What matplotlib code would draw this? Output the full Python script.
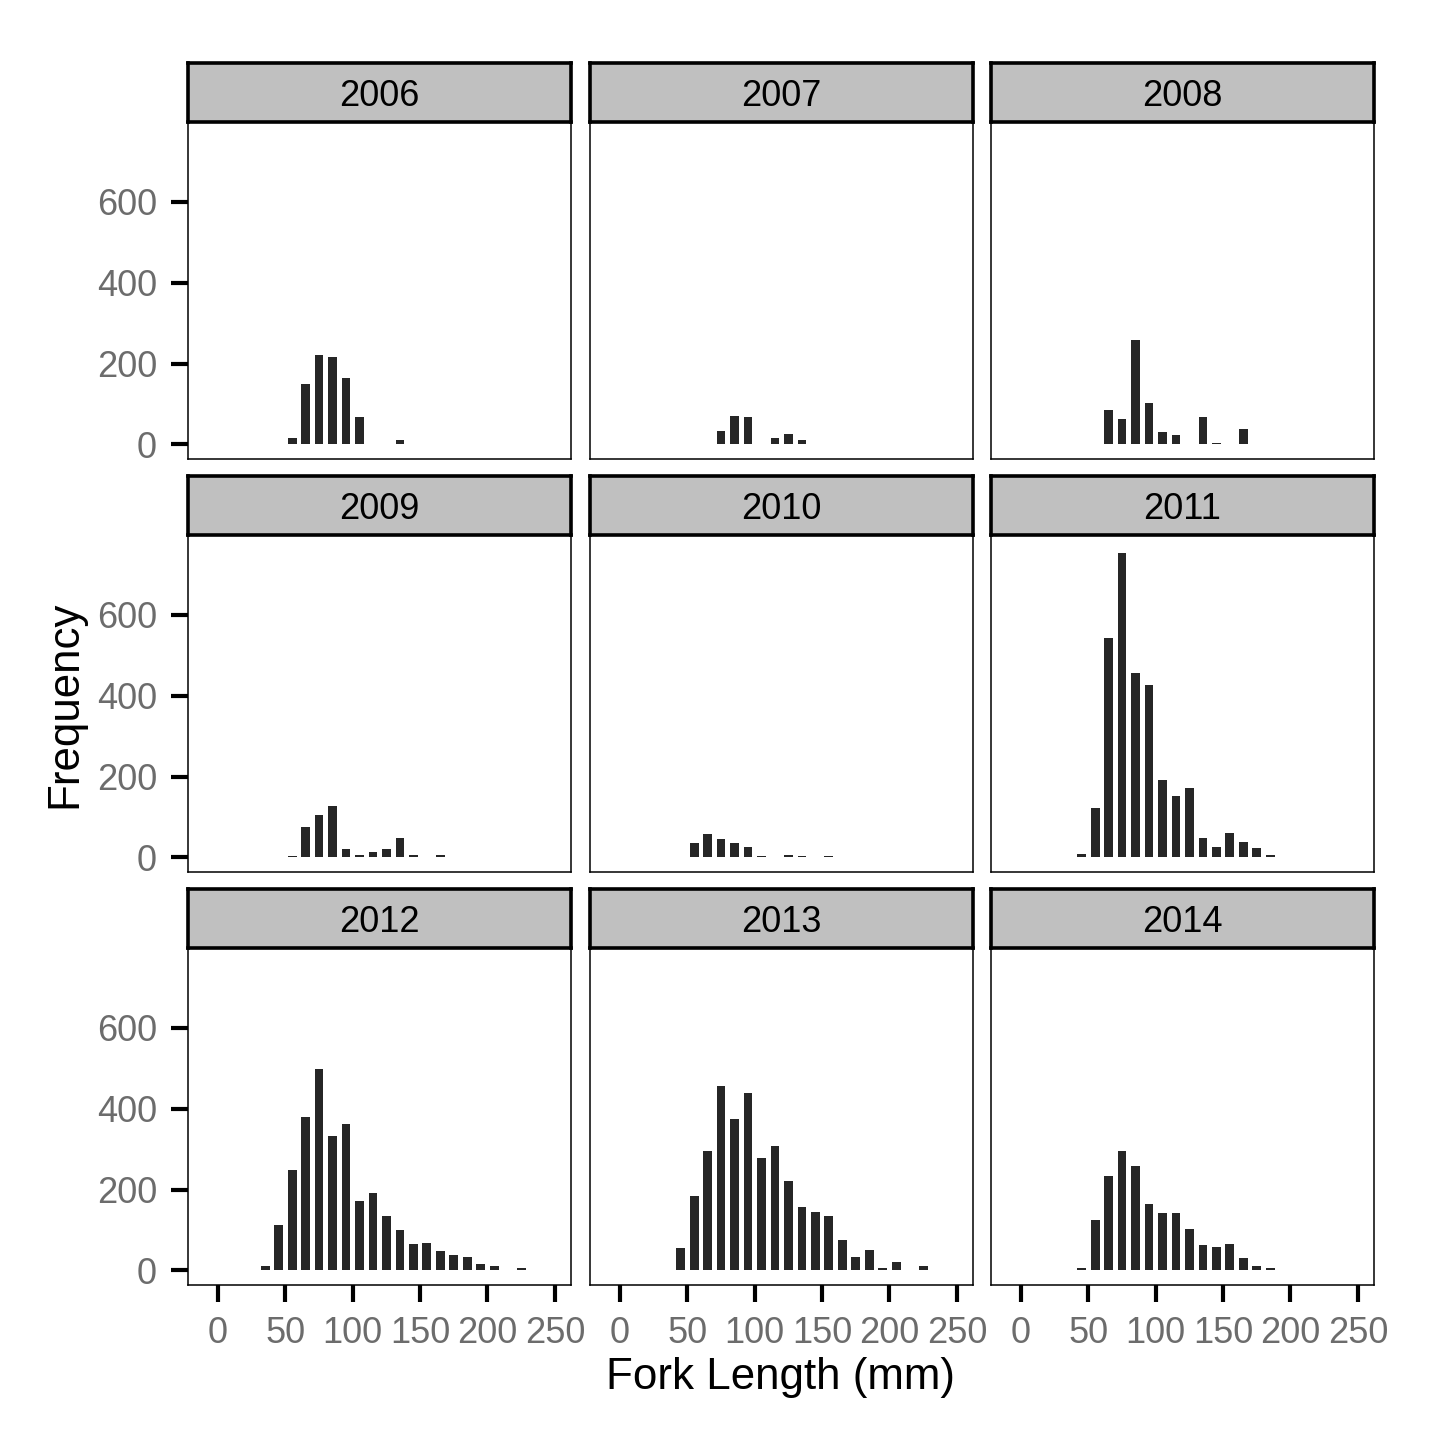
import matplotlib
matplotlib.use("Agg")
import matplotlib.pyplot as plt

plt.rcParams['font.family'] = ['Liberation Sans', 'DejaVu Sans']

# bin mid points (10 mm bins)
bin_mids = [35, 45, 55, 65, 75, 85, 95, 105, 115, 125,
            135, 145, 155, 165, 175, 185, 195, 205, 215, 225]

years = [2006, 2007, 2008, 2009, 2010, 2011, 2012, 2013, 2014]

counts_2006 = [0, 0, 16, 150, 220, 215, 164, 67, 1, 0, 11, 0, 0, 0, 0, 0, 0, 0, 0, 0]
counts_2007 = [0, 0, 0, 0, 32, 71, 69, 1, 17, 26, 12, 2, 0, 0, 0, 0, 0, 0, 0, 0]
counts_2008 = [0, 0, 0, 86, 62, 257, 102, 30, 23, 2, 69, 3, 0, 38, 0, 0, 0, 0, 0, 0]
counts_2009 = [0, 0, 3, 74, 104, 128, 20, 5, 13, 21, 48, 7, 1, 6, 0, 0, 0, 0, 0, 0]
counts_2010 = [0, 1, 35, 58, 45, 35, 26, 3, 1, 6, 4, 0, 3, 0, 0, 0, 0, 0, 0, 0]
counts_2011 = [0, 9, 121, 542, 752, 456, 427, 191, 151, 172, 48, 26, 61, 37, 23, 7, 0, 0, 0, 0]
counts_2012 = [12, 113, 248, 379, 498, 333, 362, 171, 192, 135, 100, 66, 67, 49, 37, 32, 16, 11, 1, 7]
counts_2013 = [0, 55, 185, 294, 455, 374, 438, 277, 308, 220, 156, 145, 134, 75, 34, 50, 7, 22, 1, 12]
counts_2014 = [0, 7, 125, 233, 296, 259, 165, 143, 141, 102, 63, 59, 65, 30, 10, 7, 0, 0, 0, 0]

all_counts = [counts_2006, counts_2007, counts_2008, counts_2009, counts_2010,
              counts_2011, counts_2012, counts_2013, counts_2014]

x_ticks = [0, 50, 100, 150, 200, 250]
y_ticks = [0, 200, 400, 600]

W = 1440.0
col_left = [188, 590, 991]
col_w = 383
row_top = [122, 535, 948]  # panel tops in px
panel_h = 337
strip_h = 59

tick_grey = '#6c6c6c'
fs_tick = 13

fig = plt.figure(figsize=(7.2, 7.2), dpi=200)

for i, yr in enumerate(years):
    r, c = divmod(i, 3)
    left = col_left[c] / W
    bottom = 1 - (row_top[r] + panel_h) / W
    ax = fig.add_axes([left, bottom, col_w / W, panel_h / W])
    ax.bar(bin_mids, all_counts[i], width=6.5, color='#262626', linewidth=0)
    ax.set_xlim(-22.3, 262)
    ax.set_ylim(-36, 797)
    for sp in ax.spines.values():
        sp.set_linewidth(0.55)
        sp.set_color('black')
    ax.set_xticks(x_ticks)
    ax.set_yticks(y_ticks)
    ax.tick_params(axis='both', direction='out', length=6.2, width=1.5,
                   color='black', labelcolor=tick_grey, labelsize=fs_tick, pad=5.0)
    if r != 2:
        ax.tick_params(axis='x', length=0, labelbottom=False)
    if c != 0:
        ax.tick_params(axis='y', length=0, labelleft=False)

    # facet strip
    sax = fig.add_axes([left, 1 - row_top[r] / W, col_w / W, strip_h / W])
    sax.set_facecolor('#c0c0c0')
    sax.set_xticks([])
    sax.set_yticks([])
    for sp in sax.spines.values():
        sp.set_linewidth(1.3)
        sp.set_color('black')
    sax.text(0.5, 0.5, str(yr), ha='center', va='center_baseline', fontsize=fs_tick,
             color='black', transform=sax.transAxes)

fig.text(781 / W, 1 - 1378 / W, 'Fork Length (mm)', ha='center', va='center',
         fontsize=15.8, color='black')
fig.text(65 / W, 1 - 704 / W, 'Frequency', ha='center', va='center',
         rotation=90, fontsize=15.8, color='black')

fig.savefig('out.png', dpi=200)
